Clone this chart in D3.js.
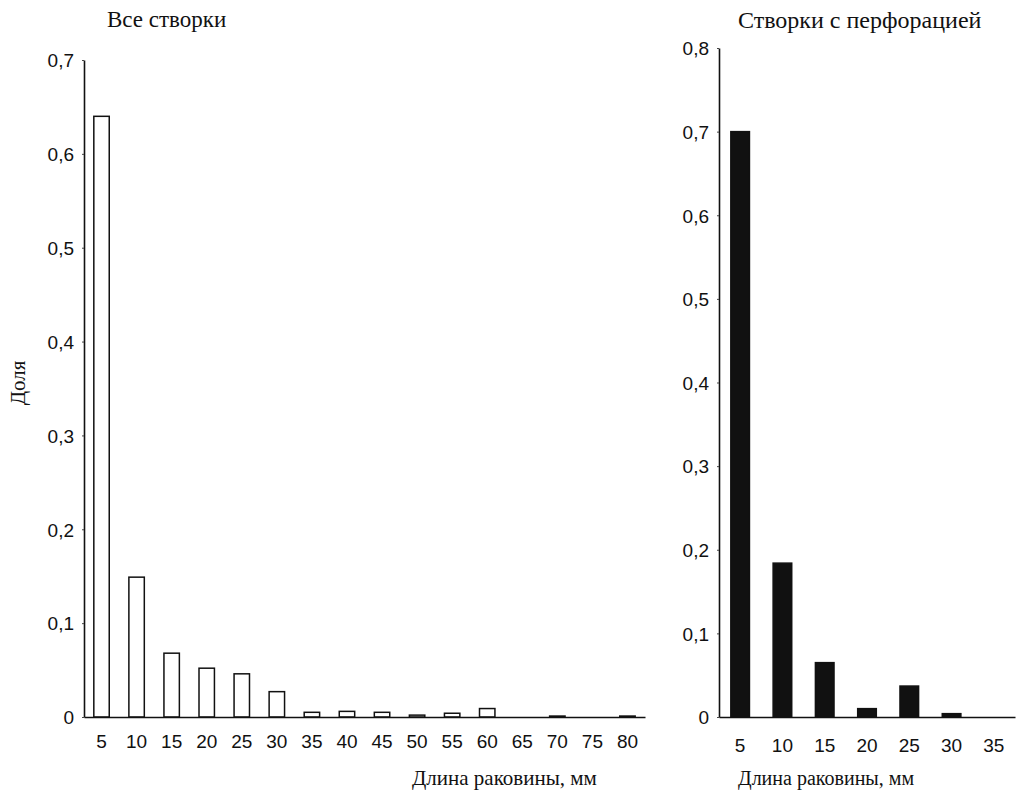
<!DOCTYPE html>
<html>
<head>
<meta charset="utf-8">
<script src="https://cdn.jsdelivr.net/npm/d3@7"></script>
<style>
  body { margin: 0; background: #fff; }
  .tick text { font-family: "Liberation Sans", Arial, sans-serif; font-size: 19px; fill: #111; }
  .ttl { font-family: "Liberation Serif", "Times New Roman", serif; font-size: 22px; fill: #111; }
</style>
</head>
<body>
<script>
var width = 1023;
var height = 806;

// data
var allLengths = ["5","10","15","20","25","30","35","40","45","50","55","60","65","70","75","80"];
var allShare = [0.64,0.149,0.068,0.052,0.046,0.027,0.005,0.006,0.005,0.002,0.004,0.009,0.0,0.001,0.0,0.001];
var perfLengths = ["5","10","15","20","25","30","35"];
var perfShare = [0.70,0.184,0.065,0.01,0.037,0.004,0.0];
var leftTicks = [0,0.1,0.2,0.3,0.4,0.5,0.6,0.7];
var rightTicks = [0,0.1,0.2,0.3,0.4,0.5,0.6,0.7,0.8];

var svg = d3.select("body").append("svg")
  .attr("width", width)
  .attr("height", height);

var fmt = function(v){ return v == 0 ? "0" : d3.format(".1f")(v).replace(".", ","); };

function drawPanel(opt){
  var x = d3.scaleBand().domain(opt.cats).range(opt.xr).paddingInner(opt.pad).paddingOuter(opt.pad/2);
  var y = d3.scaleLinear().domain([0, opt.ymax]).range(opt.yr);
  var g = svg.append("g");

  g.selectAll("rect.bar")
    .data(opt.vals)
    .enter()
    .append("rect")
    .attr("class","bar")
    .attr("x", function(d,i){ return x(opt.cats[i]); })
    .attr("width", x.bandwidth())
    .attr("y", function(d){ return y(d); })
    .attr("height", function(d){ return y(0) - y(d); })
    .style("fill", opt.fill)
    .style("stroke", "#111")
    .style("stroke-width", 1.5);

  var yAxis = g.append("g")
    .attr("transform", "translate(" + opt.xr[0] + ",0)")
    .call(d3.axisLeft(y).tickValues(opt.ticks).tickFormat(fmt).tickSize(2).tickSizeOuter(0).tickPadding(8));
  yAxis.selectAll("text").attr("dy", "0.36em");

  var xAxis = g.append("g")
    .attr("transform", "translate(0," + opt.yr[0] + ")")
    .call(d3.axisBottom(x).tickSize(0).tickSizeOuter(0).tickPadding(opt.xpad));

  g.selectAll(".domain").style("stroke", "#111").style("stroke-width", 1.6);
  g.selectAll(".tick line").style("stroke", "#444");

  g.append("text").attr("class","ttl")
    .attr("x", opt.title[1]).attr("y", opt.title[2])
    .style("font-size", opt.title[3] + "px")
    .text(opt.title[0]);
  g.append("text").attr("class","ttl")
    .attr("x", opt.xlab[0]).attr("y", opt.xlab[1])
    .style("font-size", opt.xlab[2] + "px")
    .text("Длина раковины, мм");
}

drawPanel({
  cats: allLengths, vals: allShare, ticks: leftTicks, ymax: 0.7,
  xr: [84, 645], yr: [717, 60], pad: 0.56, fill: "#fff", xpad: 18,
  title: ["Все створки", 107, 27, 23], xlab: [412, 785, 21]
});

drawPanel({
  cats: perfLengths, vals: perfShare, ticks: rightTicks, ymax: 0.8,
  xr: [719, 1015], yr: [717, 48], pad: 0.56, fill: "#111", xpad: 22,
  title: ["Створки с перфорацией", 738, 28, 24], xlab: [738, 785, 20]
});

svg.append("text").attr("class","ttl")
  .attr("transform", "translate(25,383) rotate(-90)")
  .attr("text-anchor", "middle")
  .style("font-size", "21px")
  .text("Доля");
</script>
</body>
</html>
